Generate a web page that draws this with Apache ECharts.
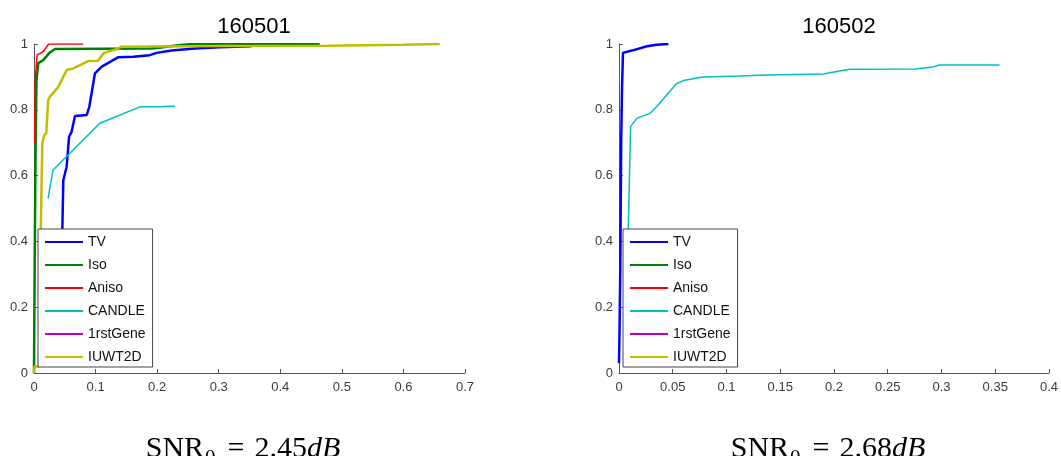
<!DOCTYPE html>
<html>
<head>
<meta charset="utf-8">
<script src="https://cdn.jsdelivr.net/npm/echarts@6/dist/echarts.min.js"></script>
<style>
  html, body { margin: 0; padding: 0; background: #fff; }
  #chart { width: 1061px; height: 456px; }
</style>
</head>
<body>
<div id="chart"></div>
<script>
// Method names shown in both legends
const methods = ['TV', 'Iso', 'Aniso', 'CANDLE', '1rstGene', 'IUWT2D'];
const colors = ['#0000ff', '#008000', '#ff0000', '#00bfbf', '#bf00bf', '#bfbf00'];
const widths = [2.5, 2.5, 1.5, 1.5, 1.5, 2.5];

// Panel titles and captions
const panelTitles = ['160501', '160502'];
const snrValues = ['2.45', '2.68'];

// Axis ranges / tick spacing
const xMaxLeft = 0.7, xStepLeft = 0.1;
const xMaxRight = 0.4, xStepRight = 0.05;

// Panel 160501: [x, y] points of each curve
const tvLeft = [[0.046,0.36],[0.046,0.434],[0.0476,0.586],[0.053,0.627],[0.057,0.718],[0.061,0.733],[0.0666,0.781],[0.0855,0.784],[0.0898,0.809],[0.099,0.911],[0.11,0.931],[0.137,0.96],[0.161,0.961],[0.188,0.966],[0.199,0.973],[0.2235,0.98],[0.261,0.986],[0.302,0.99],[0.353,0.993]];
const isoLeft = [[0,0],[0.001,0.3],[0.002,0.56],[0.003,0.75],[0.004,0.89],[0.007,0.942],[0.015,0.951],[0.025,0.973],[0.034,0.985],[0.188,0.986],[0.2,0.988],[0.234,0.996],[0.253,0.999],[0.464,0.999]];
const anisoLeft = [[0.001,0.7],[0.002,0.89],[0.005,0.967],[0.015,0.977],[0.024,1.0],[0.08,1.0]];
const candleLeft = [[0.023,0.531],[0.026,0.566],[0.031,0.617],[0.107,0.759],[0.172,0.809],[0.2,0.809],[0.229,0.811]];
const firstGeneLeft = [];
const iuwtLeft = [[0,0],[0.001,0.02],[0.008,0.02],[0.0085,0.09],[0.0095,0.23],[0.011,0.434],[0.0135,0.7],[0.0167,0.723],[0.02,0.729],[0.023,0.83],[0.026,0.84],[0.039,0.868],[0.053,0.921],[0.064,0.926],[0.088,0.948],[0.104,0.949],[0.113,0.972],[0.121,0.977],[0.134,0.984],[0.142,0.992],[0.3,0.994],[0.477,0.995],[0.48,0.998],[0.6,0.998],[0.602,1.0],[0.659,1.0]];

// Panel 160502: [x, y] points of each curve
const tvRight = [[0,0.03],[0.0005,0.13],[0.0012,0.318],[0.002,0.694],[0.0028,0.866],[0.0037,0.973],[0.012,0.98],[0.026,0.993],[0.035,0.998],[0.046,1.0]];
const isoRight = [];
const anisoRight = [];
const candleRight = [[0.0085,0.38],[0.0086,0.434],[0.0108,0.749],[0.0164,0.774],[0.0288,0.789],[0.035,0.809],[0.0536,0.88],[0.061,0.89],[0.078,0.90],[0.112,0.903],[0.137,0.906],[0.19,0.909],[0.205,0.918],[0.2145,0.923],[0.276,0.924],[0.293,0.931],[0.298,0.936],[0.354,0.936]];
const firstGeneRight = [];
const iuwtRight = [];

const leftSets = [tvLeft, isoLeft, anisoLeft, candleLeft, firstGeneLeft, iuwtLeft];
const rightSets = [tvRight, isoRight, anisoRight, candleRight, firstGeneRight, iuwtRight];

const axisGray = '#555';
const labelGray = '#3a3a3a';
const sansFont = 'Liberation Sans, Arial, sans-serif';
const serifFont = 'Liberation Serif, serif';

function xAxisFor(gridIndex, max, step) {
  return {
    type: 'value', gridIndex: gridIndex, min: 0, max: max, interval: step,
    axisLine: { show: true, lineStyle: { color: axisGray, width: 1 } },
    axisTick: { show: true, inside: true, length: 4, lineStyle: { color: axisGray } },
    axisLabel: { color: labelGray, fontSize: 13, fontFamily: sansFont, margin: 8 },
    splitLine: { show: false }
  };
}
function yAxisFor(gridIndex) {
  return {
    type: 'value', gridIndex: gridIndex, min: 0, max: 1, interval: 0.2,
    axisLine: { show: true, lineStyle: { color: axisGray, width: 1 } },
    axisTick: { show: true, inside: true, length: 4, lineStyle: { color: axisGray } },
    axisLabel: { color: labelGray, fontSize: 13, fontFamily: sansFont, margin: 6 },
    splitLine: { show: false }
  };
}
function legendFor(left) {
  return {
    data: methods, orient: 'vertical', left: left, top: 229,
    padding: [6, 7, 3, 7], itemGap: 9, itemWidth: 38, itemHeight: 14,
    // plain horizontal stroke as the key
    icon: 'path://M0 0 L38 0 L38 2 L0 2 Z',
    backgroundColor: '#fff', borderColor: '#444', borderWidth: 1,
    textStyle: { color: '#111', fontSize: 14, fontFamily: sansFont },
    selectedMode: false, z: 10
  };
}
function seriesFor(sets, axisIndex) {
  return sets.map((data, i) => ({
    name: methods[i], type: 'line', data: data,
    xAxisIndex: axisIndex, yAxisIndex: axisIndex,
    symbol: 'none', animation: false,
    lineStyle: { color: colors[i], width: widths[i] },
    itemStyle: { color: colors[i] }, z: 2 + i * 0.1
  }));
}
function snrCaption(centerX, value) {
  const base = { fontFamily: serifFont, fontWeight: 'normal', fontSize: 30, color: '#000', verticalAlign: 'top', lineHeight: 30 };
  return {
    text: '{m|SNR}{s|0}{e|=}{m|' + value + '}{i|dB}',
    left: centerX, top: 429, textAlign: 'center',
    textStyle: {
      fontWeight: 'normal',
      rich: {
        m: base,
        s: Object.assign({}, base, { fontSize: 21, padding: [14, 0, 0, 1] }),
        e: Object.assign({}, base, { padding: [0, 10, 0, 12] }),
        i: Object.assign({}, base, { fontStyle: 'italic' })
      }
    }
  };
}

const chart = echarts.init(document.getElementById('chart'), null, { renderer: 'canvas' });
chart.setOption({
  animation: false,
  backgroundColor: '#fff',
  title: [
    { text: panelTitles[0], left: 249, top: 11, textAlign: 'center', textStyle: { fontFamily: sansFont, fontSize: 22, fontWeight: 'normal', color: '#000' } },
    { text: panelTitles[1], left: 834, top: 11, textAlign: 'center', textStyle: { fontFamily: sansFont, fontSize: 22, fontWeight: 'normal', color: '#000' } },
    snrCaption(238, snrValues[0]),
    snrCaption(823, snrValues[1])
  ],
  grid: [
    { left: 34, top: 44, width: 431, height: 329 },
    { left: 619, top: 44, width: 431, height: 329 }
  ],
  xAxis: [xAxisFor(0, xMaxLeft, xStepLeft), xAxisFor(1, xMaxRight, xStepRight)],
  yAxis: [yAxisFor(0), yAxisFor(1)],
  legend: [legendFor(38), legendFor(623)],
  series: seriesFor(leftSets, 0).concat(seriesFor(rightSets, 1))
});
</script>
</body>
</html>
